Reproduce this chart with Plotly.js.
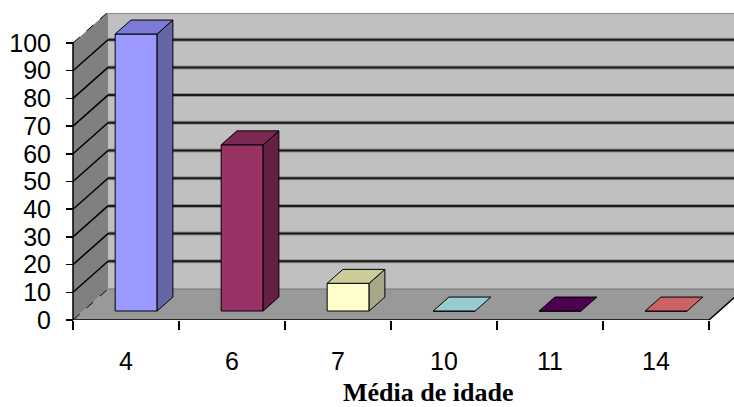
<!DOCTYPE html>
<html>
<head>
<meta charset="utf-8">
<script src="https://cdn.plot.ly/plotly-3.0.1.min.js"></script>
<style>html,body{margin:0;padding:0;background:#fff;}#chart{width:734px;height:407px;}</style>
</head>
<body>
<div id="chart"></div>
<script>
// ---- data ----
const categories = ['4', '6', '7', '10', '11', '14'];
const values = [100, 60, 10, 0, 0, 0];
const yTicks = [0, 10, 20, 30, 40, 50, 60, 70, 80, 90, 100];
const axisTitle = 'Média de idade';

// ---- styles ----
const frontColors = ['#9999FF', '#993366', '#FFFFCC', '#CCFFFF', '#660066', '#FF8080'];
const topColors   = ['#7B7BD4', '#7A2952', '#CCCC99', '#99CCCC', '#4D004D', '#CC6363'];
const sideColors  = ['#6666A6', '#661F44', '#A8A888', '#88AAAA', '#330033', '#AA5555'];

// ---- geometry (pixel scale of the pseudo-3D projection) ----
const W = 734, H = 407, ML = 71, MT = 13, MB = 87;
const plotW = W - ML, plotH = H - MT - MB;
const PXX = 106, PXY = 2.77;
const xStart = -0.5 - 2 / PXX;
const xRange = [xStart, xStart + plotW / PXX];
const yRange = [0, plotH / PXY];
const DX = 35 / PXX, DY = 31 / PXY;       // full depth offset
const F0 = 0.29, F1 = 0.74, BW = 0.396;   // bar depth span and width
const xL = -0.5, xR = categories.length - 0.5;
const yTop = yTicks[yTicks.length - 1];

const shapes = [];
const P = (pts) => 'M ' + pts.map(p => p[0] + ',' + p[1]).join(' L ') + ' Z';
// back wall
shapes.push({type: 'rect', xref: 'x', yref: 'y', layer: 'below', x0: xL + DX, x1: xRange[1] + 1,
  y0: DY, y1: yTop + DY, fillcolor: '#C0C0C0', line: {width: 0}});
// floor
shapes.push({type: 'path', xref: 'x', yref: 'y', layer: 'below',
  path: P([[xL, 0], [xR, 0], [xR + DX, DY], [xL + DX, DY]]), fillcolor: '#999999', line: {width: 0}});
// left wall
shapes.push({type: 'path', xref: 'x', yref: 'y', layer: 'below',
  path: P([[xL, 0], [xL, yTop], [xL + DX, yTop + DY], [xL + DX, DY]]), fillcolor: '#808080', line: {width: 0}});
// back-wall gridlines
yTicks.forEach(v => {
  if (v === 0) {
    shapes.push({type: 'line', xref: 'x', yref: 'y', layer: 'below', x0: xL + DX, x1: xRange[1] + 1,
      y0: DY, y1: DY, line: {color: '#777777', width: 1}});
    return;
  }
  shapes.push({type: 'line', xref: 'x', yref: 'y', layer: 'below', x0: xL + DX, x1: xRange[1] + 1,
    y0: v + DY, y1: v + DY, line: {color: '#8C8C8C', width: 4}});
  shapes.push({type: 'line', xref: 'x', yref: 'y', layer: 'below', x0: xL + DX, x1: xRange[1] + 1,
    y0: v + DY, y1: v + DY, line: {color: '#1A1A1A', width: 2}});
});
// left-wall gridlines
yTicks.forEach(v => {
  const edge = (v === 0 || v === yTop);
  shapes.push({type: 'line', xref: 'x', yref: 'y', layer: 'below', x0: xL, y0: v, x1: xL + DX, y1: v + DY,
    line: {color: '#000000', width: edge ? 1 : 1.5, dash: edge ? 'dash' : 'solid'}});
});
// front axis line, floor front edge, floor right edge
shapes.push({type: 'line', xref: 'x', yref: 'y', x0: xL, y0: 0, x1: xL, y1: yTop, line: {color: '#000', width: 1.5}});
shapes.push({type: 'line', xref: 'x', yref: 'y', x0: xL, y0: 0, x1: xR, y1: 0, line: {color: '#000', width: 1.5}});
shapes.push({type: 'line', xref: 'x', yref: 'y', x0: xR, y0: 0, x1: xR + DX, y1: DY, line: {color: '#000', width: 1.5}});

const traces = [];
// front faces
traces.push({
  type: 'bar', x: categories.map((c, i) => i + F0 * DX), y: values, base: F0 * DY, width: BW,
  marker: {color: frontColors, line: {color: '#000', width: 1}}, hoverinfo: 'skip', showlegend: false
});
// top and side faces
values.forEach((v, i) => {
  const a = i - BW / 2, b = i + BW / 2;
  const top = [[a + F0 * DX, v + F0 * DY], [b + F0 * DX, v + F0 * DY], [b + F1 * DX, v + F1 * DY], [a + F1 * DX, v + F1 * DY], [a + F0 * DX, v + F0 * DY]];
  const side = [[b + F0 * DX, F0 * DY], [b + F1 * DX, F1 * DY], [b + F1 * DX, v + F1 * DY], [b + F0 * DX, v + F0 * DY], [b + F0 * DX, F0 * DY]];
  if (v > 0) {
    traces.push({type: 'scatter', mode: 'lines', x: side.map(p => p[0]), y: side.map(p => p[1]), fill: 'toself',
      fillcolor: sideColors[i], line: {color: '#000', width: 1}, hoverinfo: 'skip', showlegend: false});
  }
  traces.push({type: 'scatter', mode: 'lines', x: top.map(p => p[0]), y: top.map(p => p[1]), fill: 'toself',
    fillcolor: topColors[i], line: {color: '#000', width: 1}, hoverinfo: 'skip', showlegend: false});
});

const boundaries = categories.map((c, i) => i - 0.5).concat([categories.length - 0.5]);

const layout = {
  width: W, height: H,
  margin: {l: ML, r: 0, t: MT, b: MB, pad: 0},
  paper_bgcolor: '#FFFFFF', plot_bgcolor: '#FFFFFF',
  showlegend: false,
  xaxis: {
    range: xRange, fixedrange: true,
    tickmode: 'array', tickvals: categories.map((c, i) => i), ticktext: categories,
    ticks: '', showgrid: false, zeroline: false, showline: false,
    tickfont: {family: 'Liberation Sans, Arial, sans-serif', size: 25, color: '#000'},
    ticklabelstandoff: 24,
    minor: {tickmode: 'array', tickvals: boundaries, ticks: 'outside', ticklen: 9, tickwidth: 1.5, tickcolor: '#000', showgrid: false}
  },
  yaxis: {
    range: yRange, fixedrange: true, anchor: 'free', position: 2 / plotW,
    tickmode: 'array', tickvals: yTicks,
    ticks: 'outside', ticklen: 7, tickwidth: 1.5, tickcolor: '#000',
    showgrid: false, zeroline: false, showline: false,
    tickfont: {family: 'Liberation Sans, Arial, sans-serif', size: 25, color: '#000'},
    ticklabelstandoff: 10
  },
  shapes: shapes,
  annotations: [{
    text: axisTitle, xref: 'paper', yref: 'paper', x: (428 - ML) / plotW, y: -(392 - (H - MB)) / plotH,
    xanchor: 'center', yanchor: 'middle', showarrow: false, height: 28, valign: 'middle',
    font: {family: 'Liberation Serif, Times New Roman, serif', size: 26, color: '#000', weight: 'bold'}
  }]
};

Plotly.newPlot('chart', traces, layout, {displayModeBar: false, staticPlot: true});
</script>
</body>
</html>
